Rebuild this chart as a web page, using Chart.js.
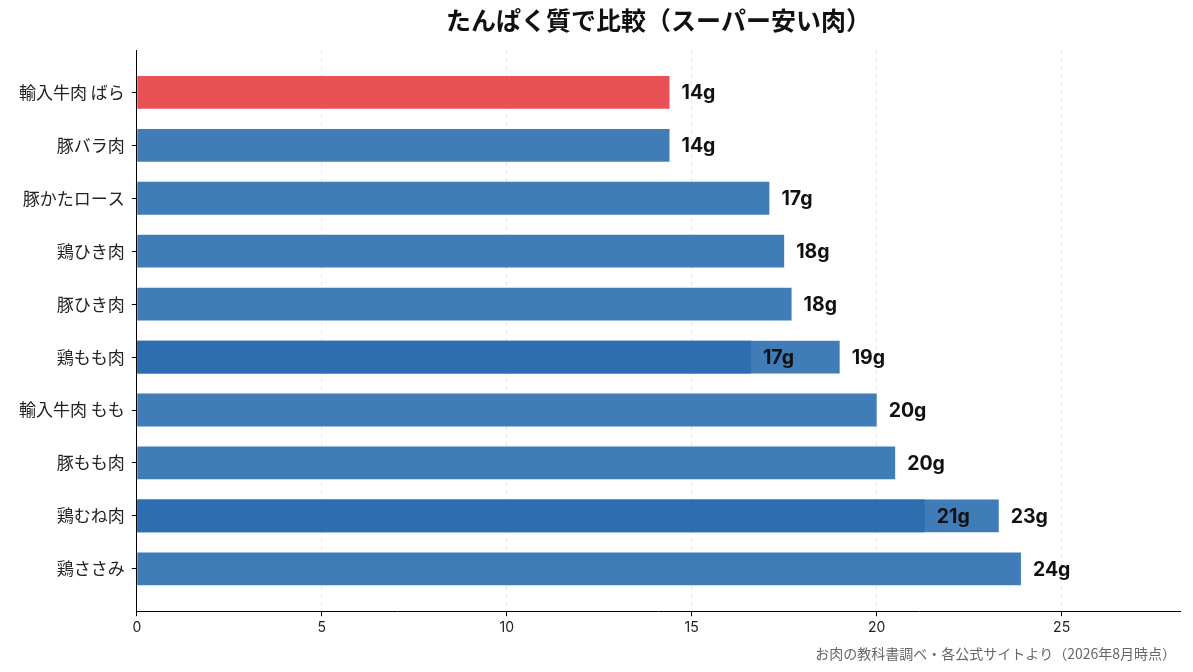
<!DOCTYPE html>
<html>
<head>
<meta charset="utf-8">
<script src="https://cdn.jsdelivr.net/npm/chart.js@4.4.1/dist/chart.umd.min.js"></script>
<style>
  body { margin: 0; background: #fff; }
  #wrap { width: 1193px; height: 672px; }
</style>
</head>
<body>
<div id="wrap"><canvas id="proteinChart"></canvas></div>
<script>
// categories top -> bottom
const meats = ['輸入牛肉 ばら', '豚バラ肉', '豚かたロース', '鶏ひき肉', '豚ひき肉', '鶏もも肉', '輸入牛肉 もも', '豚もも肉', '鶏むね肉', '鶏ささみ'];
// protein per 100g (bar lengths)
const protein = [14.4, 14.4, 17.1, 17.5, 17.7, 19.0, 20.0, 20.5, 23.3, 23.9];
const proteinLabels = ['14g', '14g', '17g', '18g', '18g', '19g', '20g', '20g', '23g', '24g'];
// second (inner) value for two items
const innerProtein = [null, null, null, null, null, 16.6, null, null, 21.3, null];
const innerLabels = [null, null, null, null, null, '17g', null, null, '21g', null];
const xTicks = [0, 5, 10, 15, 20, 25];
const xMax = 28.2;

const FONT = '"Noto Sans CJK JP", "Noto Sans", sans-serif';
const NUM_FONT = 'Inter, "Noto Sans CJK JP", sans-serif';
const BLUE = '#3f7cb8';
const RED = '#e85254';
const DARK = '#2e6db0';

const toPoints = arr => arr.map((v, i) => v === null ? null : { x: v, y: i }).filter(p => p);

const labelPlugin = {
  id: 'barLabels',
  afterDatasetsDraw(chart) {
    const ctx = chart.ctx;
    ctx.save();
    ctx.font = 'bold 19.5px ' + NUM_FONT;
    ctx.fillStyle = '#111';
    ctx.textBaseline = 'middle';
    ctx.textAlign = 'left';
    chart.data.datasets.forEach((ds, di) => {
      const meta = chart.getDatasetMeta(di);
      meta.data.forEach((bar, j) => {
        const idx = ds.data[j].y;
        const txt = ds.valueLabels[idx];
        if (txt) ctx.fillText(txt, bar.x + 12, bar.y + 1);
      });
    });
    ctx.restore();
  },
  afterDraw(chart) {
    const ctx = chart.ctx;
    const area = chart.chartArea;
    ctx.save();
    ctx.font = 'bold 25px ' + FONT;
    ctx.fillStyle = '#111';
    ctx.textAlign = 'center';
    ctx.textBaseline = 'middle';
    ctx.fillText('たんぱく質で比較（スーパー安い肉）', (area.left + area.right) / 2, 20);
    ctx.font = '14px ' + FONT;
    ctx.fillStyle = '#666';
    ctx.textAlign = 'right';
    ctx.fillText('お肉の教科書調べ・各公式サイトより（2026年8月時点）', 1176, 654);
    ctx.restore();
  }
};

new Chart(document.getElementById('proteinChart'), {
  type: 'bar',
  data: {
    datasets: [
      {
        data: toPoints(protein),
        valueLabels: proteinLabels,
        backgroundColor: protein.map((v, i) => i === 0 ? RED : BLUE),
        categoryPercentage: 1,
        barPercentage: 0.62,
        order: 2
      },
      {
        data: toPoints(innerProtein),
        valueLabels: innerLabels,
        backgroundColor: DARK,
        categoryPercentage: 1,
        barPercentage: 0.62,
        order: 1
      }
    ]
  },
  options: {
    indexAxis: 'y',
    responsive: true,
    maintainAspectRatio: false,
    animation: false,
    devicePixelRatio: 1,
    layout: { padding: { top: 50, right: 13, bottom: 33, left: 12 } },
    plugins: {
      legend: { display: false },
      tooltip: { enabled: false }
    },
    datasets: { bar: { grouped: false } },
    scales: {
      x: {
        type: 'linear',
        min: 0,
        max: xMax,
        afterBuildTicks: axis => { axis.ticks = xTicks.map(v => ({ value: v })); },
        grid: {
          color: '#e6e6e6',
          tickColor: '#000',
          tickLength: 5,
          tickWidth: 1
        },
        border: { color: '#000', width: 1, dash: [4, 4] },
        ticks: { color: '#222', font: { family: NUM_FONT, size: 14 }, padding: 3 }
      },
      y: {
        type: 'linear',
        reverse: true,
        offset: false,
        min: -0.8,
        max: meats.length - 1 + 0.8,
        afterBuildTicks: axis => { axis.ticks = meats.map((m, i) => ({ value: i })); },
        grid: {
          offset: false,
          drawOnChartArea: false,
          tickColor: '#000',
          tickLength: 5
        },
        border: { color: '#000', width: 1 },
        ticks: {
          color: '#222',
          font: { family: FONT, size: 17 },
          padding: 7,
          callback: v => meats[v]
        }
      }
    }
  },
  plugins: [labelPlugin]
});
</script>
</body>
</html>
